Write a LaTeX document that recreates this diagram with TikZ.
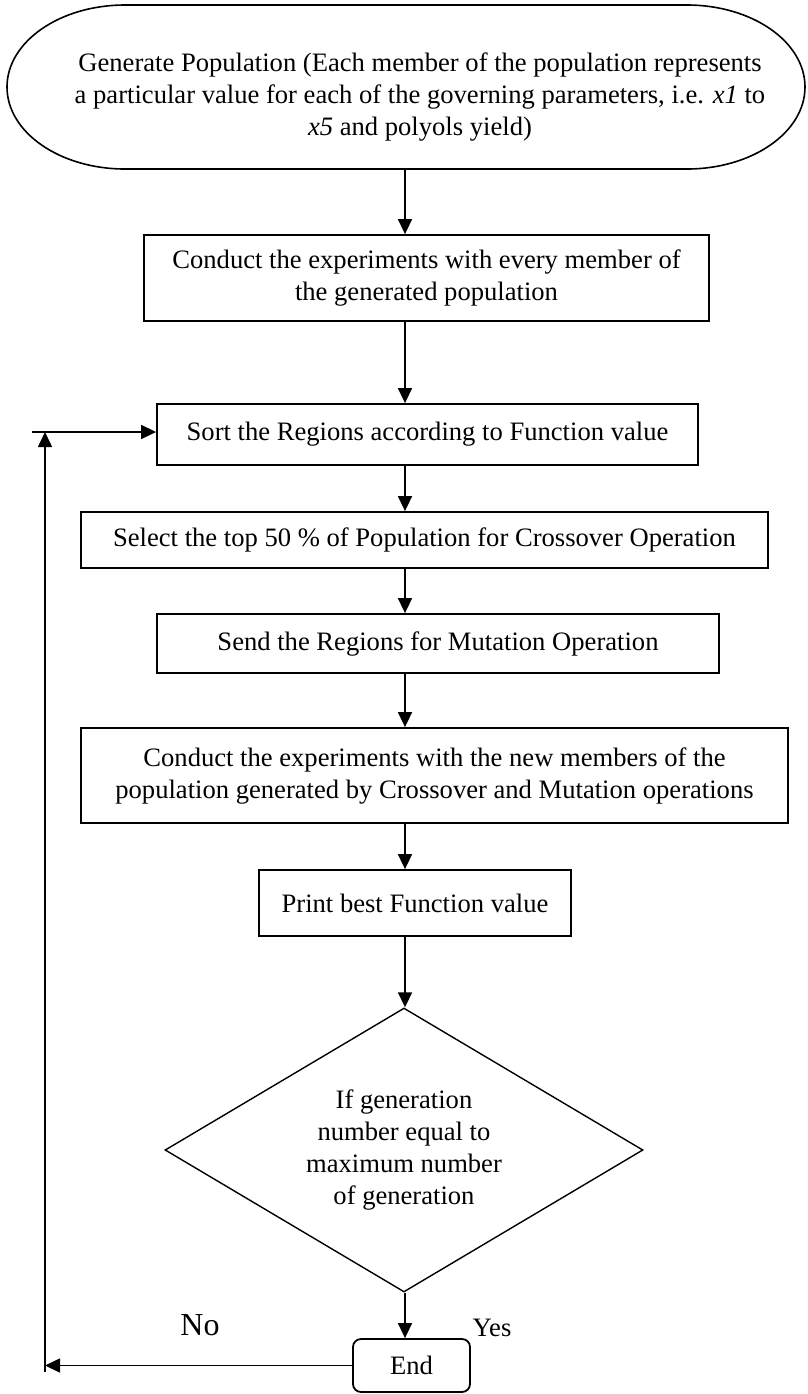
\documentclass[tikz,border=0pt]{standalone}
\usepackage{fontspec}
\setmainfont{Liberation Serif}
\usetikzlibrary{arrows.meta,shapes.geometric}

\begin{document}
\begin{tikzpicture}[x=0.5pt,y=-0.5pt,font=\fontsize{13.3}{16}\selectfont,
  box/.style={draw,line width=0.9pt,align=center,inner sep=0pt},
  dec/.style={draw,diamond,aspect=1.683,line width=0.7pt,align=center,inner sep=0pt},
  term/.style={box,rounded corners=4pt},
  ar/.style={-{Triangle[length=7.5pt,width=7pt]},line width=0.8pt}]
\useasboundingbox (0,0) rectangle (808,1394);
\coordinate (spine) at (405,0);
% start terminal
\node[inner sep=0pt,align=center] (start) at (420,97) {Generate Population (Each member of the population represents\\ a particular value for each of the governing parameters, i.e. \textit{x1} to\\ \textit{x5} and polyols yield)};
\draw[line width=0.8pt] (125,5) -- (687,5) arc[start angle=90,end angle=-90,x radius=59pt,y radius=41pt]
  -- (125,169) arc[start angle=270,end angle=90,x radius=59pt,y radius=41pt] -- cycle;
\coordinate (startS) at (405,169);
% process boxes
\node[box,minimum width=282.5pt,minimum height=43pt] (conduct) at (426.5,278) {Conduct the experiments with every member of\\ the generated population};
\node[box,minimum width=270.5pt,minimum height=30.5pt] (sort) at (427.5,434.5) {Sort the Regions according to Function value};
\node[box,minimum width=343.5pt,minimum height=28pt] (select) at (424.5,540) {Select the top 50 \% of Population for Crossover Operation};
\node[box,minimum width=281pt,minimum height=29.5pt] (send) at (438,643.5) {Send the Regions for Mutation Operation};
\node[box,minimum width=353.5pt,minimum height=47.5pt] (conductnew) at (434.5,775.5) {Conduct the experiments with the new members of the\\ population generated by Crossover and Mutation operations};
\node[box,minimum width=156pt,minimum height=33pt] (print) at (415,903) {Print best Function value};
\node[dec,minimum width=239pt,minimum height=142pt] (check) at (404,1150) {If generation\\ number equal to\\ maximum number\\ of generation};
\node[term,minimum width=58.5pt,minimum height=26.5pt] (finish) at (411.5,1365.5) {End};
% main flow
\draw[ar] (startS) -- (conduct.north -| startS);
\foreach \a/\b in {conduct/sort,sort/select,select/send,send/conductnew,conductnew/print,print/check,check/finish}
  \draw[ar] (\a.south -| spine) -- (\b.north -| spine);
% loop back
\coordinate (loopB) at (45,1372);
\coordinate (loopT) at (45,432);
\coordinate (loopL) at (32,432);
\draw[ar] (finish.west) -- (finish.west -| loopB);
\draw[ar] (loopB) -- (loopT);
\draw[ar] (loopL) -- (loopL -| sort.west);
\node[font=\fontsize{16}{18}\selectfont] (no) at (200,1325) {No};
\node (yes) at (492,1328) {Yes};
\end{tikzpicture}
\end{document}
